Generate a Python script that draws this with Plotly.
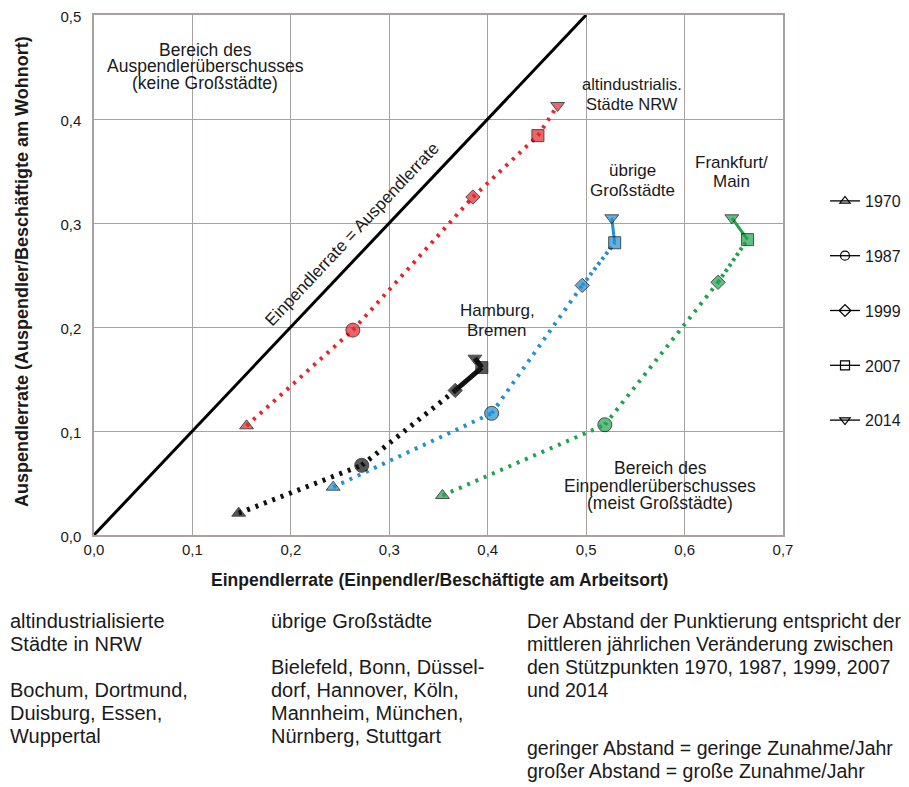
import plotly.graph_objects as go

# ---------------- data ----------------
years = ["1970", "1987", "1999", "2007", "2014"]
symbols = ["triangle-up", "circle", "diamond", "square", "triangle-down"]

nrw_x = [0.155, 0.263, 0.385, 0.451, 0.471]
nrw_y = [0.105, 0.197, 0.325, 0.384, 0.413]
ueb_x = [0.243, 0.404, 0.496, 0.529, 0.526]
ueb_y = [0.046, 0.117, 0.240, 0.281, 0.305]
ffm_x = [0.354, 0.519, 0.634, 0.664, 0.648]
ffm_y = [0.038, 0.106, 0.243, 0.284, 0.305]
hhb_x = [0.147, 0.272, 0.367, 0.394, 0.387]
hhb_y = [0.021, 0.067, 0.139, 0.161, 0.170]

diag_x = [0.0, 0.5]
diag_y = [0.0, 0.5]

x_ticks = [0.0, 0.1, 0.2, 0.3, 0.4, 0.5, 0.6, 0.7]
y_ticks = [0.0, 0.1, 0.2, 0.3, 0.4, 0.5]

x_title = "Einpendlerrate (Einpendler/Beschäftigte am Arbeitsort)"
y_title = "Auspendlerrate (Auspendler/Beschäftigte am Wohnort)"
diag_label = "Einpendlerrate = Auspendlerrate"

col1_lines = ["altindustrialisierte", "Städte in NRW", "", "Bochum, Dortmund,", "Duisburg, Essen,", "Wuppertal"]
col2_lines = ["übrige Großstädte", "", "Bielefeld, Bonn, Düssel-", "dorf, Hannover, Köln,", "Mannheim, München,", "Nürnberg, Stuttgart"]
col3_lines = ["Der Abstand der Punktierung entspricht der", "mittleren jährlichen Veränderung zwischen",
              "den Stützpunkten 1970, 1987, 1999, 2007", "und 2014"]
col3b_lines = ["geringer Abstand = geringe Zunahme/Jahr", "großer Abstand = große Zunahme/Jahr"]

# ---------------- style ----------------
FONT = "Liberation Sans, Arial, Helvetica, sans-serif"
TXT = "#1a1a1a"
GRID = "#a9a0a0"
RED, BLUE, GREEN, BLACK = "#E3262B", "#2290D2", "#1FA44D", "#111111"
marker_sizes = [12, 14, 11, 12, 12]
dash_map = {"dot": "3px,6px", "dense": "3px,3.5px", "solid": "solid"}

series = [
    dict(x=nrw_x, y=nrw_y, color=RED, seg=["dot", "dot", "dot", "dot"], w=[4, 4, 4, 4]),
    dict(x=ueb_x, y=ueb_y, color=BLUE, seg=["dot", "dot", "dense", "solid"], w=[4, 4, 4, 3]),
    dict(x=ffm_x, y=ffm_y, color=GREEN, seg=["dot", "dot", "dense", "solid"], w=[4, 4, 4, 3]),
    dict(x=hhb_x, y=hhb_y, color=BLACK, seg=["dot", "dot", "solid", "solid"], w=[5, 5, 5, 5]),
]

# page offset (body margin) and window size
OX, OY = 8, 8
WIN_W, WIN_H = 909, 787
W, H = WIN_W - OX, WIN_H - OY
PL, PR, PT, PB = 94, 783, 15, 535          # plot area in window pixels
L, T = PL - OX, PT - OY
R, B = WIN_W - PR, WIN_H - PB
PW, PH = PR - PL, PB - PT


def px(xp):
    return (xp - PL) / PW


def py(yp):
    return (PB - yp) / PH


fig = go.Figure()

# diagonal
fig.add_trace(go.Scatter(x=diag_x, y=diag_y, mode="lines", line=dict(color="black", width=3),
                         showlegend=False, hoverinfo="skip"))

# connecting segments
for s in series:
    for i in range(len(s["x"]) - 1):
        fig.add_trace(go.Scatter(x=s["x"][i:i + 2], y=s["y"][i:i + 2], mode="lines",
                                 line=dict(color=s["color"], width=s["w"][i], dash=dash_map[s["seg"][i]]),
                                 showlegend=False, hoverinfo="skip"))

# markers
for s in series:
    fig.add_trace(go.Scatter(x=s["x"], y=s["y"], mode="markers",
                             marker=dict(symbol=symbols, size=marker_sizes, color=s["color"],
                                         line=dict(color="black", width=1)),
                             showlegend=False, hoverinfo="skip"))

# legend entries
for yr, sym in zip(years, symbols):
    fig.add_trace(go.Scatter(x=[None], y=[None], mode="lines+markers", name=yr, legendgroup=yr,
                             line=dict(color="black", width=1.3),
                             marker=dict(symbol=sym + "-open", size=9, color="black",
                                         line=dict(color="black", width=1.2))))

ann = []


def add_lines(lines, x, y0, step, size, xanchor="left"):
    for k, t in enumerate(lines):
        if not t:
            continue
        ann.append(dict(text=t, x=px(x), y=py(y0 + k * step),
                        xref="paper", yref="paper", xanchor=xanchor, yanchor="middle",
                        showarrow=False, font=dict(size=size, color=TXT, family=FONT)))


# in-plot labels (window pixel positions)
add_lines(["Bereich des", "Auspendlerüberschusses", "(keine Großstädte)"], 205, 50, 16.5, 17.5, xanchor="center")
add_lines(["altindustrialis.", "Städte NRW"], 632, 84, 20, 16.5, xanchor="center")
add_lines(["übrige", "Großstädte"], 632, 170, 20, 17, xanchor="center")
add_lines(["Frankfurt/", "Main"], 731, 162, 20, 17, xanchor="center")
add_lines(["Hamburg,", "Bremen"], 497, 310, 20, 17, xanchor="center")
add_lines(["Bereich des", "Einpendlerüberschusses", "(meist Großstädte)"], 660, 468, 17.5, 17.5, xanchor="center")

# diagonal label
ann.append(dict(text=diag_label, x=0.262, y=0.289, xref="x", yref="y", textangle=-46.7,
                xanchor="center", yanchor="middle",
                showarrow=False, font=dict(size=17, color=TXT, family=FONT)))

# axis titles
ann.append(dict(text="<b>%s</b>" % x_title, x=px(440), y=py(580), xref="paper", yref="paper",
                xanchor="center", yanchor="middle",
                showarrow=False, font=dict(size=17.5, color=TXT, family=FONT)))
ann.append(dict(text="<b>%s</b>" % y_title, x=px(22), y=py(272), xref="paper", yref="paper",
                xanchor="center", yanchor="middle",
                textangle=-90, showarrow=False, font=dict(size=18, color=TXT, family=FONT)))

# bottom text columns
add_lines(col1_lines, 8, 621, 23, 20)
add_lines(col2_lines, 269, 621, 23, 20)
add_lines(col3_lines, 525, 621, 23, 19.5)
add_lines(col3b_lines, 525, 748, 23, 19.5)

fig.update_layout(
    width=W, height=H,
    margin=dict(l=L, r=R, t=T, b=B, autoexpand=False),
    plot_bgcolor="white", paper_bgcolor="white",
    separators=", ",
    font=dict(family=FONT, color=TXT),
    annotations=ann,
    legend=dict(xref="container", yref="container", x=(830 - OX - 5) / W, y=1 - (184 - OY) / H,
                xanchor="left", yanchor="top", tracegroupgap=31,
                font=dict(size=16, color=TXT, family=FONT), bgcolor="rgba(0,0,0,0)", itemwidth=30),
)
fig.update_xaxes(range=[0, 0.7], tickvals=x_ticks, tickformat=".1f", showgrid=True, gridcolor=GRID,
                 gridwidth=1.2, showline=True, linecolor=GRID, linewidth=1.5, mirror=True, zeroline=False,
                 ticks="", tickfont=dict(size=15, color=TXT), automargin=False, ticklabeloverflow="allow")
fig.update_yaxes(range=[0, 0.5], tickvals=y_ticks, tickformat=".1f", showgrid=True, gridcolor=GRID,
                 gridwidth=1.2, showline=True, linecolor=GRID, linewidth=1.5, mirror=True, zeroline=False,
                 ticks="outside", ticklen=8, tickcolor="rgba(0,0,0,0)", tickfont=dict(size=15, color=TXT),
                 automargin=False, ticklabeloverflow="allow", ticklabelshift=2)

fig.write_html("out.html")
